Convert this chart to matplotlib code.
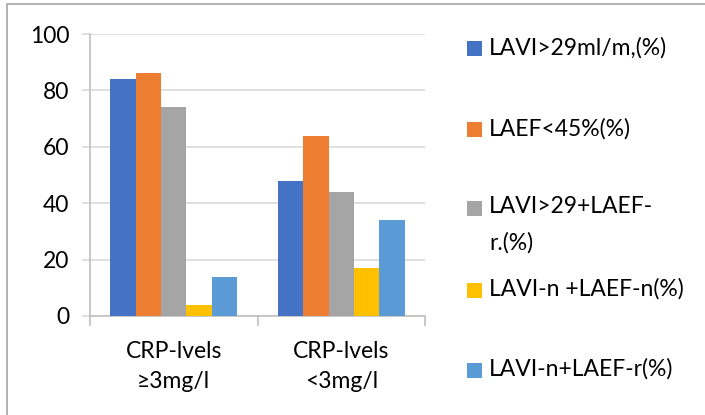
import matplotlib
matplotlib.use("Agg")
import matplotlib.pyplot as plt
from matplotlib.patches import Rectangle
import numpy as np

plt.rcParams['font.family'] = ['Lato', 'DejaVu Sans']

categories = ["CRP-lvels\n\u22653mg/l", "CRP-lvels\n<3mg/l"]
series_names = ["LAVI>29ml/m,(%)", "LAEF<45%(%)", "LAVI>29+LAEF-\nr.(%)",
                "LAVI-n +LAEF-n(%)", "LAVI-n+LAEF-r(%)"]
series_values = [
    [84, 48],
    [86, 64],
    [74, 44],
    [4, 17],
    [14, 34],
]
colors = ["#4472C4", "#ED7D31", "#A5A5A5", "#FFC000", "#5B9BD5"]
yticks = [0, 20, 40, 60, 80, 100]

FS = 16.5
W, H = 705, 415
fig = plt.figure(figsize=(W / 100, H / 100), dpi=100)
ax = fig.add_axes([90 / W, 1 - 316 / H, (425 - 90) / W, (316 - 34) / H])

n = len(series_names)
group_w = 0.76
bw = group_w / n
x = np.arange(len(categories))
for i, (name, vals) in enumerate(zip(series_names, series_values)):
    ax.bar(x - group_w / 2 + bw * (i + 0.5), vals, width=bw, color=colors[i],
           zorder=3, linewidth=0)

ax.set_xlim(-0.5, len(categories) - 0.5)
ax.set_ylim(0, 100)
ax.set_yticks(yticks)
ax.yaxis.grid(True, color="#D9D9D9", linewidth=1.2, zorder=0)
ax.tick_params(axis='y', length=6, color="#D9D9D9", width=1.2, pad=9,
               labelsize=FS, labelcolor="black")
ax.set_xticks(x)
ax.set_xticklabels(categories, linespacing=1.55)
ax.set_xticks(np.arange(len(categories) + 1) - 0.5, minor=True)
ax.tick_params(axis='x', which='major', length=0, pad=18, labelsize=FS,
               labelcolor="black")
ax.tick_params(axis='x', which='minor', length=7, color="#BFBFBF", width=1.2)
for s in ["top", "right"]:
    ax.spines[s].set_visible(False)
for s in ["left", "bottom"]:
    ax.spines[s].set_color("#BFBFBF")
    ax.spines[s].set_linewidth(1.2)

# legend (manual, Excel style)
leg_y = [49, 130, 208, 290, 370]
for i, name in enumerate(series_names):
    yc = leg_y[i]
    fig.patches.append(Rectangle((467 / W, 1 - (yc + 7.5) / H), 15 / W, 15 / H,
                                 transform=fig.transFigure, facecolor=colors[i],
                                 edgecolor="none"))
    fig.text(489 / W, 1 - (yc - 12) / H, name, fontsize=FS, color="black",
             va="top", ha="left", linespacing=1.85)

# outer border
fig.patches.append(Rectangle((7 / W, -0.1), 1.2, 1 - 4 / H + 0.1,
                             transform=fig.transFigure, facecolor="none",
                             edgecolor="#A6A6A6", linewidth=1.2))

fig.savefig("out.png", dpi=100)
